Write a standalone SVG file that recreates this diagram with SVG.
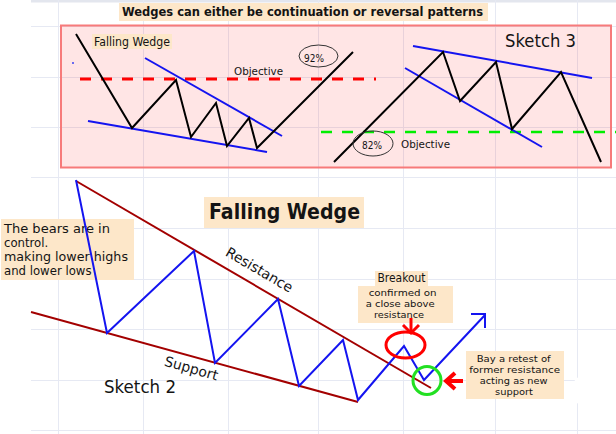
<svg xmlns="http://www.w3.org/2000/svg" width="616" height="434" viewBox="0 0 616 434">
<style>
.t{font-family:"DejaVu Sans","Liberation Sans",sans-serif;fill:#141414}
.c{font-family:"DejaVu Sans Condensed","DejaVu Sans","Liberation Sans",sans-serif}
.g{stroke:#e6e9f3;stroke-width:1}
.bk{stroke:#000;stroke-width:2;fill:none;stroke-linejoin:miter}
.bl{stroke:#1414f0;stroke-width:2;fill:none}
.dr{stroke:#a30000;stroke-width:2;fill:none}
.box{fill:#fde7c9}
</style>
<rect width="616" height="434" fill="#fff"/>
<g id="grid">
<rect x="31" y="0" width="585" height="2.5" fill="#e3e6ee"/>
<g class="g">
<line x1="31" y1="26.5" x2="616" y2="26.5"/>
<line x1="31" y1="77.5" x2="616" y2="77.5"/>
<line x1="31" y1="127.5" x2="616" y2="127.5"/>
<line x1="31" y1="177.5" x2="616" y2="177.5"/>
<line x1="31" y1="228.5" x2="616" y2="228.5"/>
<line x1="31" y1="279.5" x2="616" y2="279.5"/>
<line x1="31" y1="329.5" x2="616" y2="329.5"/>
<line x1="31" y1="380.5" x2="616" y2="380.5"/>
<line x1="31" y1="430.5" x2="616" y2="430.5"/>
<line x1="58.5" y1="0" x2="58.5" y2="434"/>
<line x1="143.5" y1="0" x2="143.5" y2="434"/>
<line x1="228.5" y1="0" x2="228.5" y2="434"/>
<line x1="318.5" y1="0" x2="318.5" y2="434"/>
<line x1="403.5" y1="0" x2="403.5" y2="434"/>
<line x1="495.5" y1="0" x2="495.5" y2="434"/>
<line x1="577.5" y1="0" x2="577.5" y2="434"/>
</g>
<rect x="573" y="375" width="50" height="31" rx="12" fill="#fff"/>
</g>
<g id="panel">
<rect x="61" y="25.5" width="550" height="142" fill="#ff0000" fill-opacity="0.1" stroke="#f77a7a" stroke-width="2"/>
<rect x="72" y="62" width="2" height="2" fill="#6b6bf0"/>
</g>
<g id="title">
<rect class="box" x="119" y="3" width="369" height="18"/>
<text class="t c" x="122" y="16" font-size="13" font-weight="bold" textLength="361" lengthAdjust="spacingAndGlyphs">Wedges can either be continuation or reversal patterns</text>
</g>
<g id="label-falling-wedge-small">
<rect class="box" x="92" y="34" width="80" height="15"/>
<text class="t c" x="94" y="46" font-size="12" textLength="76" lengthAdjust="spacingAndGlyphs">Falling Wedge</text>
</g>
<g id="connectors">
<line x1="80" y1="79" x2="376" y2="79" stroke="#ff0000" stroke-width="3" stroke-dasharray="11 10"/>
<line x1="321" y1="132" x2="616" y2="132" stroke="#00ee00" stroke-width="2.5" stroke-dasharray="11 10"/>
<line class="bl" x1="145" y1="58" x2="282" y2="136"/>
<line class="bl" x1="88" y1="121" x2="267" y2="152"/>
<polyline class="bk" points="76,34 132,128 176,80 191,137 216,103 227,146 249,118 257,148 353,52"/>
<line class="bl" x1="413" y1="46" x2="592" y2="78"/>
<line class="bl" x1="405" y1="68" x2="542" y2="147"/>
<polyline class="bk" points="334,162 443,52 460,101 496,62 512,129 561,72 601,162"/>
<line class="dr" x1="76" y1="181" x2="431" y2="388"/>
<line class="dr" x1="31" y1="312" x2="358" y2="402"/>
</g>
<g id="obj-top"><text class="t c" x="234" y="75" font-size="11" textLength="49" lengthAdjust="spacingAndGlyphs">Objective</text></g>
<g id="pct92">
<ellipse cx="318.5" cy="56" rx="19.5" ry="11" fill="none" stroke="#333" stroke-width="1"/>
<text class="t c" x="314" y="62" font-size="11" text-anchor="middle" textLength="20" lengthAdjust="spacingAndGlyphs">92%</text>
</g>
<g id="sketch3"><text class="t" x="505" y="47" font-size="17" textLength="71" lengthAdjust="spacingAndGlyphs">Sketch 3</text></g>
<g id="pct82">
<ellipse cx="373" cy="143.5" rx="20" ry="12.5" fill="none" stroke="#333" stroke-width="1"/>
<text class="t c" x="372" y="149" font-size="11" text-anchor="middle" textLength="20" lengthAdjust="spacingAndGlyphs">82%</text>
</g>
<g id="obj-bottom"><text class="t c" x="401" y="148" font-size="11" textLength="49" lengthAdjust="spacingAndGlyphs">Objective</text></g>
<g id="title-falling-wedge">
<rect class="box" x="204" y="197" width="160" height="31"/>
<text class="t" x="209" y="219" font-size="21" font-weight="bold" textLength="151" lengthAdjust="spacingAndGlyphs">Falling Wedge</text>
</g>
<g id="bears">
<rect class="box" x="1" y="219" width="133" height="61"/>
<text class="t c" font-size="13">
<tspan x="4" y="233" textLength="106" lengthAdjust="spacingAndGlyphs">The bears are in</tspan>
<tspan x="4" y="247">control.</tspan>
<tspan x="4" y="261" textLength="124" lengthAdjust="spacingAndGlyphs">making lower highs</tspan>
<tspan x="4" y="275">and lower lows</tspan>
</text>
</g>
<g id="price-path">
<polyline class="bl" points="76,180 107,333 194,251 215,363 278,299 299,386 343,340 358,400 404,346 424,380 485,315"/>
<polyline class="bl" points="471,314 485,314 485,328"/>
</g>
<g id="resistance-label"><text class="t c" font-size="14" text-anchor="middle" transform="translate(257,274) rotate(30.3)" textLength="75" lengthAdjust="spacingAndGlyphs">Resistance</text></g>
<g id="support-label"><text class="t c" font-size="14" text-anchor="middle" transform="translate(190,373) rotate(16)" textLength="55" lengthAdjust="spacingAndGlyphs">Support</text></g>
<g id="sketch2"><text class="t" x="104" y="393" font-size="17" textLength="72" lengthAdjust="spacingAndGlyphs">Sketch 2</text></g>
<g id="breakout">
<rect class="box" x="375" y="271" width="53" height="15"/>
<text class="t c" x="401.5" y="282" font-size="12" text-anchor="middle" textLength="48" lengthAdjust="spacingAndGlyphs">Breakout</text>
<rect class="box" x="358" y="286" width="95" height="37"/>
<text class="t c" font-size="9.5" text-anchor="middle">
<tspan x="404" y="296" textLength="68" lengthAdjust="spacingAndGlyphs">confirmed on</tspan>
<tspan x="401.5" y="307" textLength="69" lengthAdjust="spacingAndGlyphs">a close above</tspan>
<tspan x="399" y="318" textLength="50" lengthAdjust="spacingAndGlyphs">resistance</tspan>
</text>
</g>
<g id="breakout-marker">
<ellipse cx="405.5" cy="345" rx="19.5" ry="13" fill="none" stroke="#ff0000" stroke-width="3"/>
<line x1="411" y1="318" x2="411" y2="332" stroke="#ff0000" stroke-width="3"/>
<polyline points="403,325 411,333 419,325" fill="none" stroke="#ff0000" stroke-width="3"/>
</g>
<g id="retest-marker">
<circle cx="427" cy="380.5" r="14" fill="none" stroke="#22e022" stroke-width="3"/>
<line x1="447" y1="381" x2="463" y2="381" stroke="#ff0000" stroke-width="4"/>
<polyline points="455,373 446,381 455,389" fill="none" stroke="#ff0000" stroke-width="4"/>
</g>
<g id="retest-note">
<rect class="box" x="466" y="351" width="98" height="48"/>
<text class="t c" font-size="9.5" text-anchor="middle">
<tspan x="515" y="362" textLength="74" lengthAdjust="spacingAndGlyphs">Bay a retest of</tspan>
<tspan x="516" y="373" textLength="91" lengthAdjust="spacingAndGlyphs">former resistance</tspan>
<tspan x="515" y="384" textLength="68" lengthAdjust="spacingAndGlyphs">acting as new</tspan>
<tspan x="514" y="395" textLength="38" lengthAdjust="spacingAndGlyphs">support</tspan>
</text>
</g>
</svg>
